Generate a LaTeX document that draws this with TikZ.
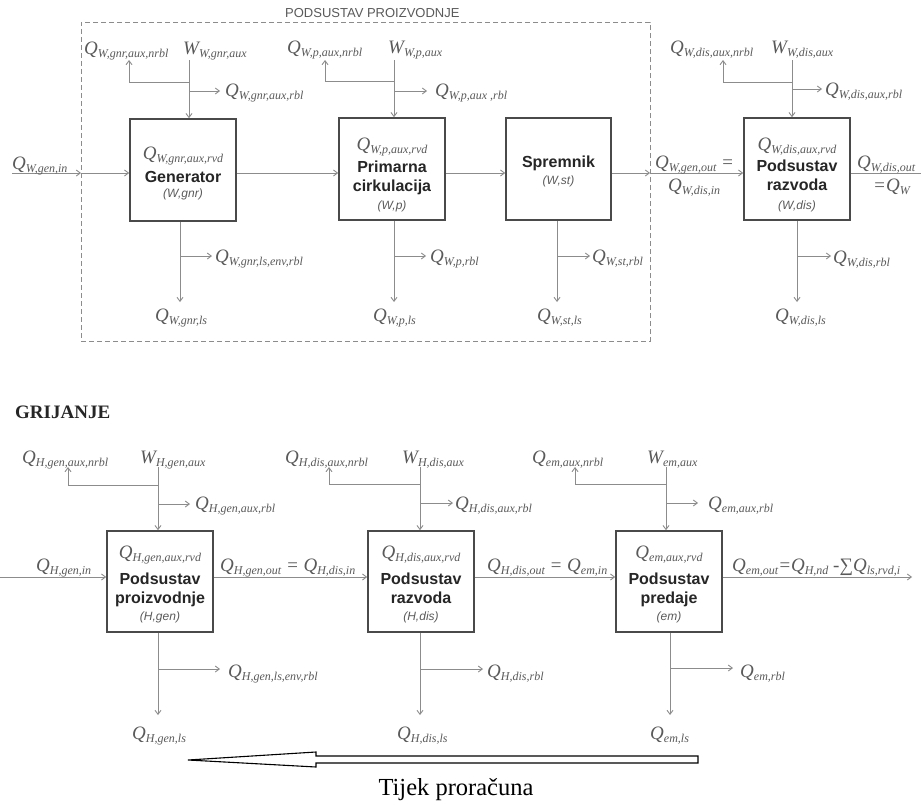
\documentclass[tikz,border=0pt]{standalone}
\usepackage{fontspec}
\setmainfont{Liberation Serif}
\setsansfont{Liberation Sans}
\usetikzlibrary{arrows.meta}
\definecolor{labc}{HTML}{5A5A5A}
\definecolor{linec}{HTML}{8C8C8C}
\definecolor{boxc}{HTML}{4A4A4A}
\definecolor{boxt}{HTML}{262626}
\newcommand\sbs[1]{\raisebox{-3.5pt}{\fontsize{12}{12}\selectfont #1}}
\newcommand\Qs[2]{#1\sbs{#2}}
\tikzset{
  flow/.style={draw=linec, line width=0.9pt},
  arr/.style={flow, -{Straight Barb[length=4pt,width=6pt]}},
  box/.style={draw=boxc, line width=1.6pt, fill=white, inner sep=0pt, minimum width=106pt, minimum height=102pt},
  lbl/.style={font=\fontsize{19}{20}\selectfont\itshape, text=labc, inner sep=0pt, anchor=base west},
  btxt/.style={font=\sffamily\bfseries\fontsize{16}{18}\selectfont, text=boxt, inner sep=0pt, anchor=base},
  bsub/.style={font=\sffamily\itshape\fontsize{12}{14}\selectfont, text=labc, inner sep=0pt, anchor=base},
  bq/.style={lbl, anchor=base},
}
% #1 prefix, #2 box, #3 x vertical, #4 y start, #5 y nrbl branch, #6 x nrbl corner, #7 y rbl branch, #8 x rbl tip
\newcommand\auxtop[8]{%
  \coordinate (#1t) at (#3,#4);
  \coordinate (#1a) at (#3,#5);
  \coordinate (#1b) at (#3,#7);
  \coordinate (#1n) at (#6,#4);
  \coordinate (#1r) at (#8,#7);
  \draw[arr] (#1t) -- (#1t |- #2.north);
  \draw[arr] (#1a) -| (#1n);
  \draw[arr] (#1b) -- (#1r);
}
% #1 prefix, #2 box, #3 x vertical, #4 y branch, #5 x branch tip, #6 y down tip
\newcommand\auxbot[6]{%
  \coordinate (#1j) at (#3,#4);
  \coordinate (#1r) at (#5,#4);
  \coordinate (#1d) at (#3,#6);
  \draw[arr] (#1j |- #2.south) -- (#1d);
  \draw[arr] (#1j) -- (#1r);
}
\begin{document}
\begin{tikzpicture}[x=1pt,y=-1pt]
\useasboundingbox[fill=white] (0,0) rectangle (921,803);

% ================= TOP: water heating =================
\node[font=\sffamily\fontsize{13}{14}\selectfont, text=labc, inner sep=0pt, anchor=west] (ttl) at (285,13) {PODSUSTAV PROIZVODNJE};
\node[draw=linec, dash pattern=on 5pt off 3pt, line width=0.9pt, minimum width=569pt, minimum height=319pt, inner sep=0pt] (grp) at (365.5,181.5) {};

\node[box] (gnr) at (183,170) {};
\node[box] (pc) at (392,169) {};
\node[box, minimum width=105pt] (st) at (558.5,169) {};
\node[box] (wd) at (797,169) {};

\node[bq] (gnrq) at (183,159) {\Qs{Q}{W,gnr,aux,rvd}};
\node[btxt] (gnrt) at (183,182.5) {Generator};
\node[bsub] (gnrs) at (183,197) {(W,gnr)};

\node[bq] (pcq) at (392,150) {\Qs{Q}{W,p,aux,rvd}};
\node[btxt] (pct1) at (392,172.5) {Primarna};
\node[btxt] (pct2) at (392,191) {cirkulacija};
\node[bsub] (pcs) at (392,209) {(W,p)};

\node[btxt] (stt) at (558.5,167.5) {Spremnik};
\node[bsub] (sts) at (558.5,184) {(W,st)};

\node[bq] (wdq) at (797,150) {\Qs{Q}{W,dis,aux,rvd}};
\node[btxt] (wdt1) at (797,171.5) {Podsustav};
\node[btxt] (wdt2) at (797,190.5) {razvoda};
\node[bsub] (wds) at (797,209) {(W,dis)};

% main flow
\coordinate (wIn) at (12,173);
\coordinate (dL) at (81,173);
\coordinate (dR) at (650,173);
\coordinate (wOut) at (921,173);
\draw[arr] (wIn) -- (dL);
\draw[arr] (dL) -- (dL -| gnr.west);
\draw[arr] (gnr.east |- dL) -- (pc.west |- dL);
\draw[arr] (pc.east |- dL) -- (st.west |- dL);
\draw[arr] (st.east |- dL) -- (dR);
\draw[arr] (dR) -- (dR -| wd.west);
\draw[flow] (wd.east |- dR) -- (wOut);

\node[lbl] (qgin) at (12,169) {\Qs{Q}{W,gen,in}};
\node[lbl] (qgout) at (655,168) {\Qs{Q}{W,gen,out} =};
\node[lbl] (qdin) at (668,191) {\Qs{Q}{W,dis,in}};
\node[lbl] (qdout) at (857,168) {\Qs{Q}{W,dis,out}};
\node[lbl] (qw) at (873,191) {=\Qs{Q}{W}};

% aux and losses
\auxtop{gA}{gnr}{189}{60}{82}{129}{91}{220}
\auxbot{gB}{gnr}{180}{256}{212}{302}
\auxtop{pA}{pc}{394}{60}{81}{325}{91}{427}
\auxbot{pB}{pc}{394}{256}{426}{302}
\auxbot{sB}{st}{557}{256}{590}{302}
\auxtop{dA}{wd}{792}{60}{82}{723}{89}{822}
\auxbot{dB}{wd}{797}{256}{831}{302}

\node[lbl] (gN) at (84,54) {\Qs{Q}{W,gnr,aux,nrbl}};
\node[lbl] (gW) at (183,54) {\Qs{W}{W,gnr,aux}};
\node[lbl] (gR) at (225,96) {\Qs{Q}{W,gnr,aux,rbl}};
\node[lbl] (gLE) at (215,262) {\Qs{Q}{W,gnr,ls,env,rbl}};
\node[lbl] (gL) at (155,321) {\Qs{Q}{W,gnr,ls}};

\node[lbl] (pN) at (287,53) {\Qs{Q}{W,p,aux,nrbl}};
\node[lbl] (pW) at (388,53) {\Qs{W}{W,p,aux}};
\node[lbl] (pR) at (435,96) {\Qs{Q}{W,p,aux ,rbl}};
\node[lbl] (pRb) at (430,262) {\Qs{Q}{W,p,rbl}};
\node[lbl] (pL) at (373,321) {\Qs{Q}{W,p,ls}};

\node[lbl] (sR) at (592,262) {\Qs{Q}{W,st,rbl}};
\node[lbl] (sL) at (537,321) {\Qs{Q}{W,st,ls}};

\node[lbl] (dN) at (670,53) {\Qs{Q}{W,dis,aux,nrbl}};
\node[lbl] (dW) at (771,53) {\Qs{W}{W,dis,aux}};
\node[lbl] (dR2) at (825,95) {\Qs{Q}{W,dis,aux,rbl}};
\node[lbl] (dRb) at (833,263) {\Qs{Q}{W,dis,rbl}};
\node[lbl] (dLs) at (775,321) {\Qs{Q}{W,dis,ls}};

% ================= BOTTOM: space heating =================
\node[font=\bfseries\fontsize{19}{20}\selectfont, text=black!85, inner sep=0pt, anchor=base west] (grij) at (15,418.5) {GRIJANJE};

\node[box, minimum height=101pt] (hg) at (160,581.5) {};
\node[box, minimum height=101pt] (hd) at (421,581.5) {};
\node[box, minimum height=101pt] (em) at (669,581.5) {};

\node[bq] (hgq) at (160,558) {\Qs{Q}{H,gen,aux,rvd}};
\node[btxt] (hgt1) at (160,584) {Podsustav};
\node[btxt] (hgt2) at (160,603) {proizvodnje};
\node[bsub] (hgs) at (160,620) {(H,gen)};

\node[bq] (hdq) at (421,558) {\Qs{Q}{H,dis,aux,rvd}};
\node[btxt] (hdt1) at (421,584) {Podsustav};
\node[btxt] (hdt2) at (421,603) {razvoda};
\node[bsub] (hds) at (421,620) {(H,dis)};

\node[bq] (emq) at (669,558) {\Qs{Q}{em,aux,rvd}};
\node[btxt] (emt1) at (669,584) {Podsustav};
\node[btxt] (emt2) at (669,603) {predaje};
\node[bsub] (ems) at (669,620) {(em)};

\coordinate (hIn) at (0,577);
\coordinate (hOut) at (912,577);
\draw[arr] (hIn) -- (hIn -| hg.west);
\draw[arr] (hg.east |- hIn) -- (hd.west |- hIn);
\draw[arr] (hd.east |- hIn) -- (em.west |- hIn);
\draw[arr] (em.east |- hIn) -- (hOut);

\node[lbl] (qhin) at (36,571) {\Qs{Q}{H,gen,in}};
\node[lbl] (qhgo) at (220,571) {\Qs{Q}{H,gen,out} = \Qs{Q}{H,dis,in}};
\node[lbl] (qhdo) at (487,571) {\Qs{Q}{H,dis,out} = \Qs{Q}{em,in}};
\node[lbl] (qemo) at (732,571) {\Qs{Q}{em,out}=\Qs{Q}{H,nd} -{\upshape ∑}\Qs{Q}{ls,rvd,i}};

\auxtop{hgA}{hg}{158}{467}{485}{68}{504}{190}
\auxtop{hdA}{hd}{420}{467}{484}{329}{503}{453}
\auxtop{emA}{em}{666}{467}{484}{575}{503}{698}
\auxbot{hgB}{hg}{158}{669}{220}{715}
\auxbot{hdB}{hd}{420}{669}{483}{715}
\auxbot{emB}{em}{670}{668}{733}{715}

\node[lbl] (hgN) at (22,463) {\Qs{Q}{H,gen,aux,nrbl}};
\node[lbl] (hgW) at (140,463) {\Qs{W}{H,gen,aux}};
\node[lbl] (hgR) at (195,509) {\Qs{Q}{H,gen,aux,rbl}};
\node[lbl] (hdN) at (285,463) {\Qs{Q}{H,dis,aux,nrbl}};
\node[lbl] (hdW) at (402,463) {\Qs{W}{H,dis,aux}};
\node[lbl] (hdR) at (455,509) {\Qs{Q}{H,dis,aux,rbl}};
\node[lbl] (emN) at (532,463) {\Qs{Q}{em,aux,nrbl}};
\node[lbl] (emW) at (647,463) {\Qs{W}{em,aux}};
\node[lbl] (emR) at (708,509) {\Qs{Q}{em,aux,rbl}};

\node[lbl] (hgLE) at (228,677) {\Qs{Q}{H,gen,ls,env,rbl}};
\node[lbl] (hgL) at (132,739) {\Qs{Q}{H,gen,ls}};
\node[lbl] (hdRb) at (487,677) {\Qs{Q}{H,dis,rbl}};
\node[lbl] (hdL) at (397,739) {\Qs{Q}{H,dis,ls}};
\node[lbl] (emRb) at (740,677) {\Qs{Q}{em,rbl}};
\node[lbl] (emL) at (650,739) {\Qs{Q}{em,ls}};

% calculation direction arrow
\draw[black, line width=1.1pt, fill=white, line join=miter]
  (188,760) -- (316,752) -- (316,756) -- (698,756) -- (698,763) -- (316,763) -- (316,767) -- cycle;
\node[font=\fontsize{24.5}{26}\selectfont, text=black, inner sep=0pt, anchor=base] (tij) at (456,795) {Tijek proračuna};
\end{tikzpicture}
\end{document}
